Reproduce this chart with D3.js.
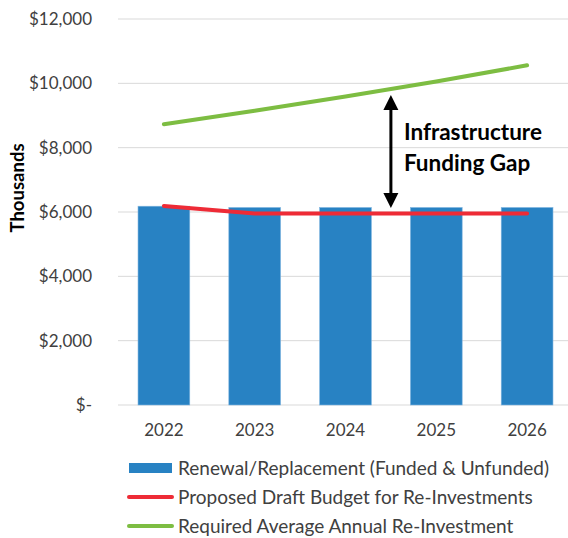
<!DOCTYPE html>
<html><head><meta charset="utf-8">
<script src="https://cdn.jsdelivr.net/npm/d3@7"></script>
<style>body{margin:0;background:#fff}svg{display:block;font-family:Lato,"Open Sans",sans-serif}</style>
</head><body>
<svg id="c" width="568" height="538"></svg>
<script>
const years = ["2022","2023","2024","2025","2026"];
const renewal = [6180, 6140, 6140, 6140, 6140];
const proposed = [6190, 5950, 5950, 5950, 5950];
const required = [8730, 9150, 9590, 10060, 10560];
const yTicks = [0, 2000, 4000, 6000, 8000, 10000, 12000];
const legendLabels = ["Renewal/Replacement (Funded & Unfunded)", "Proposed Draft Budget for Re-Investments", "Required Average Annual Re-Investment"];
const gapLabel = ["Infrastructure", "Funding Gap"];

const blue = "#2882C3", red = "#EE2B36", green = "#7DBD42";
const svg = d3.select("#c");
const x = d3.scaleBand().domain(years).range([118.5, 572.5]).paddingInner(0.43).paddingOuter(0.215);
const y = d3.scaleLinear().domain([0, 12000]).range([405, 19]);
const fmt = v => v === 0 ? "$-" : "$" + d3.format(",")(v);

// gridlines
svg.append("g").selectAll("line").data(yTicks).join("line")
  .attr("x1", 118).attr("x2", 568).attr("y1", d => y(d)).attr("y2", d => y(d))
  .attr("stroke", "#d9d9d9").attr("stroke-width", 1);

// y axis labels
const yAxis = svg.append("g").attr("transform", "translate(100,0)")
  .call(d3.axisLeft(y).tickValues(yTicks).tickFormat(fmt).tickSize(0).tickPadding(8));
yAxis.select(".domain").remove();
yAxis.selectAll("text").attr("font-size", 17).attr("fill", "#404040").attr("font-family", "Lato");

// y title
svg.append("text").attr("transform", "translate(24,188) rotate(-90)").attr("text-anchor", "middle")
  .attr("font-size", 18.5).attr("font-weight", "bold").attr("fill", "#000").text("Thousands");

// bars
svg.append("g").selectAll("rect").data(renewal).join("rect")
  .attr("x", (d, i) => x(years[i])).attr("width", x.bandwidth())
  .attr("y", d => y(d)).attr("height", d => y(0) - y(d))
  .attr("fill", blue).attr("stroke", "#7fb5e0").attr("stroke-width", 0.6);

// x axis
const xAxis = svg.append("g").attr("transform", "translate(0,405)")
  .call(d3.axisBottom(x).tickSize(0).tickPadding(19));
xAxis.select(".domain").remove();
xAxis.selectAll("text").attr("font-size", 17).attr("fill", "#404040").attr("font-family", "Lato");

const line = d3.line().x((d, i) => x(years[i]) + x.bandwidth() / 2).y(d => y(d));
svg.append("path").datum(required).attr("d", line).attr("fill", "none")
  .attr("stroke", green).attr("stroke-width", 4).attr("stroke-linecap", "round");
svg.append("path").datum(proposed).attr("d", line).attr("fill", "none")
  .attr("stroke", red).attr("stroke-width", 4).attr("stroke-linecap", "round");

// arrow
const ax = (x("2024") + x("2025") + x.bandwidth()) / 2;
const y1 = 95, y2 = 208;
svg.append("line").attr("x1", ax).attr("x2", ax).attr("y1", y1 + 10).attr("y2", y2 - 10)
  .attr("stroke", "#000").attr("stroke-width", 3);
svg.append("path").attr("d", `M${ax},${y1} L${ax - 7.5},${y1 + 15} L${ax + 7.5},${y1 + 15} Z`).attr("fill", "#000");
svg.append("path").attr("d", `M${ax},${y2} L${ax - 7.5},${y2 - 15} L${ax + 7.5},${y2 - 15} Z`).attr("fill", "#000");

svg.append("g").selectAll("text").data(gapLabel).join("text")
  .attr("x", ax + 13).attr("y", (d, i) => 140 + i * 30.5)
  .attr("font-size", 22.5).attr("font-weight", "bold").attr("fill", "#000").text(d => d);

// legend
const lg = svg.append("g");
const rowsY = [468, 497, 526];
lg.append("rect").attr("x", 129).attr("y", rowsY[0] - 5).attr("width", 43).attr("height", 10).attr("fill", blue);
lg.append("line").attr("x1", 129).attr("x2", 172).attr("y1", rowsY[1]).attr("y2", rowsY[1])
  .attr("stroke", red).attr("stroke-width", 4).attr("stroke-linecap", "round");
lg.append("line").attr("x1", 129).attr("x2", 172).attr("y1", rowsY[2]).attr("y2", rowsY[2])
  .attr("stroke", green).attr("stroke-width", 4).attr("stroke-linecap", "round");
lg.selectAll("text").data(legendLabels).join("text")
  .attr("x", 178).attr("y", (d, i) => rowsY[i] + 7)
  .attr("font-size", 19).attr("fill", "#404040").text(d => d);
</script>
</body></html>
